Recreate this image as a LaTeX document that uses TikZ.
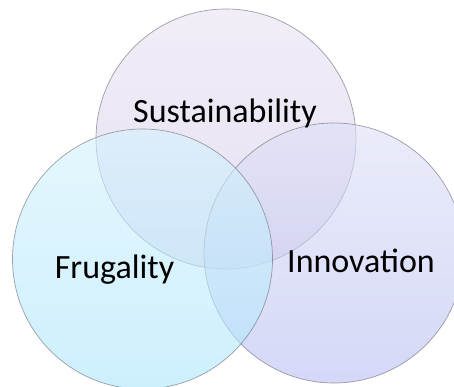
\documentclass[tikz,border=0pt]{standalone}
\usepackage{fontspec}
\setmainfont{Carlito}
\definecolor{topA}{RGB}{232,227,243}
\definecolor{topB}{RGB}{213,203,233}
\definecolor{leftA}{RGB}{213,242,253}
\definecolor{leftB}{RGB}{172,230,252}
\definecolor{rightA}{RGB}{222,225,247}
\definecolor{rightB}{RGB}{185,190,242}
\definecolor{rim}{RGB}{120,120,135}
\tikzset{
  venn/.style={circle, inner sep=0pt, minimum size=260pt, shade, shading angle=0,
    fill opacity=0.6, draw=rim, draw opacity=0.7, line width=0.7pt},
  lab/.style={anchor=base, font=\fontsize{34}{40}\selectfont, text=black, inner sep=0pt}
}
\begin{document}
\begin{tikzpicture}[x=1pt,y=-1pt]
\useasboundingbox (0,0) rectangle (454,387);
\clip (0,0) rectangle (454,387);
\fill[white] (0,0) rectangle (454,387);
\node[venn, top color=topA, bottom color=topB] (sus) at (226,139) {};
\node[venn, top color=rightA, bottom color=rightB] (inn) at (334,253) {};
\node[venn, top color=leftA, bottom color=leftB] (fru) at (142.5,259) {};
\node[lab] (tsus) at (225,123) {Sustainability};
\node[lab] (tfru) at (114.5,278) {Frugality};
\node[lab] (tinn) at (361,272) {Innovation};
\end{tikzpicture}
\end{document}
